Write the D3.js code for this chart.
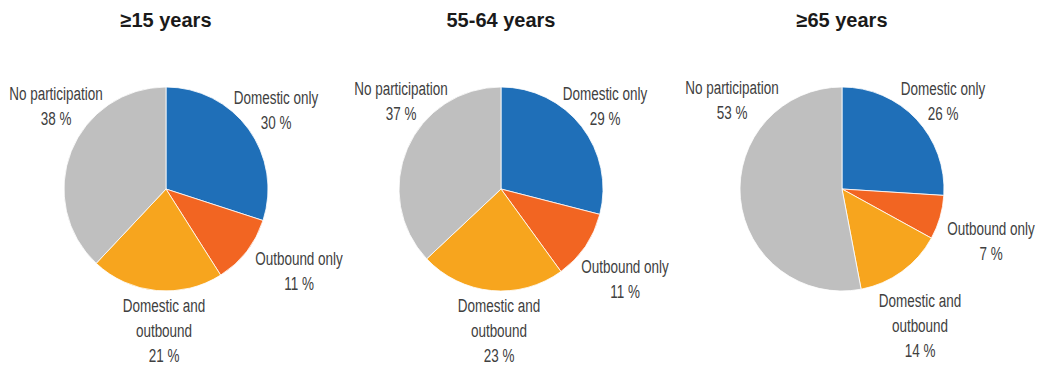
<!DOCTYPE html>
<html>
<head>
<meta charset="utf-8">
<script src="https://cdn.jsdelivr.net/npm/d3@7"></script>
<style>
  html, body { margin: 0; padding: 0; background: #ffffff; }
  svg { display: block; }
</style>
</head>
<body>
<div id="chart"></div>
<script>
// ---------- data ----------
const categories = ["Domestic only", "Outbound only", "Domestic and outbound", "No participation"];
const labelLines = [["Domestic only"], ["Outbound only"], ["Domestic and", "outbound"], ["No participation"]];
const panelTitles = ["\u226515 years", "55-64 years", "\u226565 years"];
const values15plus = [30, 11, 21, 38];
const values55to64 = [29, 11, 23, 37];
const values65plus = [26, 7, 14, 53];
const panelValues = [values15plus, values55to64, values65plus];

// ---------- layout / style ----------
const width = 1043, height = 366;
const colors = ["#1f6fb8", "#f26522", "#f7a51e", "#bfbfbf"];
const pieCenters = [166, 501, 842];
const pieCY = 189;
const radius = 102;
const titleY = 27;
const lineHeight = 25;
const condense = 0.71;
// label anchor offsets (first-line baseline) relative to each pie centre
const labelOffsets = [
  [[110, -85], [133, 76], [-2, 123], [-110, -89]],
  [[104, -89], [124, 84], [-2, 123], [-100, -94]],
  [[101, -94], [149, 46], [78, 118], [-110, -95]]
];

const svg = d3.select("#chart").append("svg")
  .attr("width", width).attr("height", height)
  .attr("viewBox", [0, 0, width, height]);

const pie = d3.pie().sort(null).value(d => d);
const arc = d3.arc().innerRadius(0).outerRadius(radius);
const color = d3.scaleOrdinal().domain(categories).range(colors);

panelValues.forEach((vals, p) => {
  const cx = pieCenters[p];
  const g = svg.append("g").attr("transform", `translate(${cx},${pieCY})`);

  g.selectAll("path.slice")
    .data(pie(vals))
    .join("path")
    .attr("class", "slice")
    .attr("d", arc)
    .attr("fill", (d, i) => color(categories[i]))
    .attr("stroke", "#ffffff")
    .attr("stroke-width", 0.8);

  svg.append("text")
    .attr("x", cx).attr("y", titleY)
    .attr("text-anchor", "middle")
    .attr("font-family", "'Liberation Sans', Arial, sans-serif")
    .attr("font-weight", "bold")
    .attr("font-size", 20)
    .attr("fill", "#1a1a1a")
    .text(panelTitles[p]);

  const labels = g.selectAll("text.lbl")
    .data(vals)
    .join("text")
    .attr("class", "lbl")
    .attr("text-anchor", "middle")
    .attr("font-family", "'Liberation Sans', Arial, sans-serif")
    .attr("font-size", 19)
    .attr("fill", "#404040")
    .attr("transform", (d, i) => `translate(${labelOffsets[p][i][0]},${labelOffsets[p][i][1]}) scale(${condense},1)`);

  labels.each(function(d, i) {
    const t = d3.select(this);
    const lines = labelLines[i].concat([`${d} %`]);
    lines.forEach((ln, k) => {
      t.append("tspan").attr("x", 0).attr("y", k * lineHeight).text(ln);
    });
  });
});
</script>
</body>
</html>
